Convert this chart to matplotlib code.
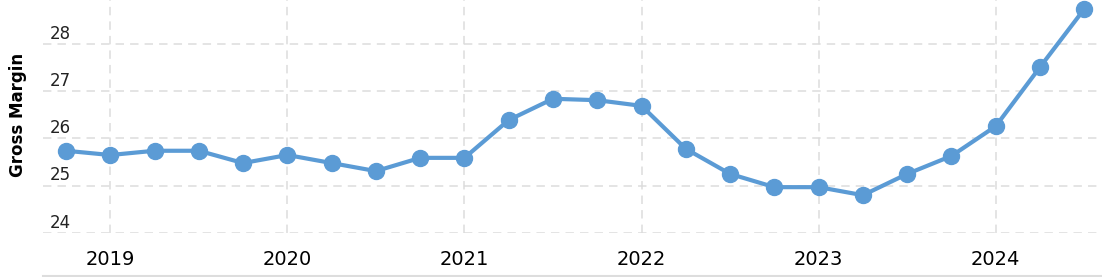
import matplotlib.pyplot as plt
from matplotlib.lines import Line2D

# quarterly gross margin, Q4 2018 .. Q3 2024 (x as fractional year)
quarters = [2018.75, 2019.0, 2019.25, 2019.5, 2019.75, 2020.0, 2020.25, 2020.5,
            2020.75, 2021.0, 2021.25, 2021.5, 2021.75, 2022.0, 2022.25, 2022.5,
            2022.75, 2023.0, 2023.25, 2023.5, 2023.75, 2024.0, 2024.25, 2024.5]
gross_margin = [25.74, 25.65, 25.74, 25.74, 25.48, 25.65, 25.48, 25.31,
                25.59, 25.59, 26.39, 26.84, 26.81, 26.69, 25.78, 25.25,
                24.97, 24.97, 24.80, 25.25, 25.63, 26.26, 27.51, 28.74]
year_ticks = [2019, 2020, 2021, 2022, 2023, 2024]
y_ticks = [24, 25, 26, 27, 28]

W, H = 1102, 277
fig = plt.figure(figsize=(W / 100, H / 100), dpi=100)
ax = fig.add_axes([43 / W, (H - 233) / H, 1 - 43 / W, 233 / H])

ax.plot(quarters, gross_margin, color='#5b9bd5', lw=3, marker='o',
        markersize=11.5, zorder=3, clip_on=False)

ax.set_xlim(2018.62, 2024.60)
ax.set_ylim(24, 28.93)

grid_kw = dict(color='#dcdcdc', lw=1.1, dashes=(5.5, 4), zorder=1)
for yv in y_ticks:
    ax.axhline(yv, **grid_kw)
    ax.text(0.006, yv + 0.03, str(yv), transform=ax.get_yaxis_transform(),
            ha='left', va='bottom', fontsize=12, color='#222222')
for xv in year_ticks:
    ax.axvline(xv, **grid_kw)

ax.set_xticks(year_ticks)
ax.set_xticklabels([str(y) for y in year_ticks], fontsize=14)
ax.tick_params(axis='x', length=0, pad=12)
ax.set_yticks([])
for s in ax.spines.values():
    s.set_visible(False)

# bottom rule under the year labels
fig.add_artist(Line2D([43 / W, 1], [1.5 / H, 1.5 / H], color='#dddddd', lw=1.5,
                      transform=fig.transFigure))

fig.text(18 / W, 1 - 115 / H, 'Gross Margin', rotation=90, ha='center',
         va='center', fontsize=12, fontweight='bold')

fig.savefig('out.png', dpi=100)
